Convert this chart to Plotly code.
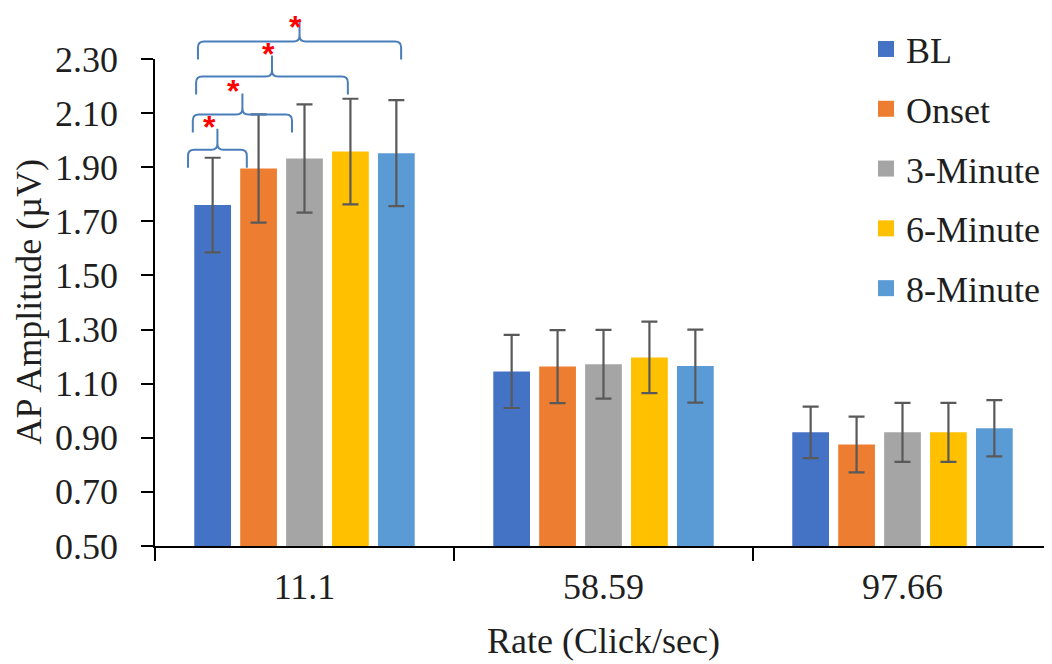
import plotly.graph_objects as go

# ---------------- data ----------------
categories = ["11.1", "58.59", "97.66"]
series_names = ["BL", "Onset", "3-Minute", "6-Minute", "8-Minute"]
bl_vals = [1.76, 1.145, 0.92]
onset_vals = [1.895, 1.163, 0.875]
min3_vals = [1.932, 1.172, 0.92]
min6_vals = [1.958, 1.197, 0.92]
min8_vals = [1.952, 1.165, 0.935]
bl_err = [0.175, 0.135, 0.095]
onset_err = [0.20, 0.135, 0.103]
min3_err = [0.20, 0.127, 0.109]
min6_err = [0.195, 0.132, 0.109]
min8_err = [0.196, 0.135, 0.104]
y_ticks = [0.50, 0.70, 0.90, 1.10, 1.30, 1.50, 1.70, 1.90, 2.10, 2.30]

# significance comparisons in the 11.1 group: (from series, to series)
comparisons = [(0, 1), (0, 2), (0, 3), (0, 4)]
comparison_levels = [1.965, 2.095, 2.235, 2.365]

# ---------------- style ----------------
colors = ["#4472C4", "#ED7D31", "#A5A5A5", "#FFC000", "#5B9BD5"]
values = [bl_vals, onset_vals, min3_vals, min6_vals, min8_vals]
errors = [bl_err, onset_err, min3_err, min6_err, min8_err]
FONT = "Liberation Serif, Times New Roman, serif"
TXT = "#1f1f1f"
OFF = 8  # page body margin
W, H = 1052 - OFF, 664 - OFF
ML, MR, MT, MB = 155 - OFF, 0, 59 - OFF, 118
PW, PH = W - ML - MR, H - MT - MB
Y0, Y1 = 0.5, 2.3
BARGAP, GROUPGAP = 0.232, 0.2
nser = len(series_names)
ncat = len(categories)
slot = (1 - BARGAP) / nser
bw = slot * (1 - GROUPGAP)

fig = go.Figure()
for name, vals, errs, col in zip(series_names, values, errors, colors):
    fig.add_trace(go.Bar(
        name=name, x=categories, y=vals, marker_color=col,
        marker_line_width=0, legendgroup=name, showlegend=False,
        error_y=dict(type="data", array=errs, visible=True,
                     color="#595959", thickness=2.2, width=8),
    ))
# legend entries with larger square swatches
for name, col in zip(series_names, colors):
    fig.add_trace(go.Scatter(
        name=name, x=[None], y=[None], mode="markers",
        marker=dict(symbol="square", size=16, color=col),
        legendgroup=name, showlegend=True, hoverinfo="skip",
    ))

def xp(cat, ser, frac=0.0):
    pos = cat + (ser - (nser - 1) / 2) * slot + frac * bw
    return (pos + 0.5) / ncat

def yp(v):
    return (v - Y0) / (Y1 - Y0)

left_frac = [-0.67, -0.54, -0.45, -0.40]
right_frac = [-0.32, -0.34, -0.07, 0.13]
leg_px, rise_px, rh_px, rv_px = 18, 21, 6, 6
ast_dx = [-8, -9, -3, -4]
ast_lift_px = 5       # glyph centre above brace tip
ast_box_off = 16      # glyph centre below annotation box top
ymax_paper = (MT - 0.2) / PH + 1  # top edge of figure in paper units
shapes, annos = [], []
for k, ((a, b), lvl) in enumerate(zip(comparisons, comparison_levels)):
    xl = xp(0, a, left_frac[k])
    xr = xp(0, b, right_frac[k])
    xm = (xl + xr) / 2
    yh = yp(lvl)
    leg = leg_px / PH
    rise = rise_px / PH
    rh = rh_px / PW
    rv = rv_px / PH
    path = (
        f"M{xl},{yh-leg} L{xl},{yh-rv} Q{xl},{yh} {xl+rh},{yh} "
        f"L{xm-rh},{yh} Q{xm},{yh} {xm},{yh+rv} L{xm},{yh+rise} "
        f"M{xm},{yh+rv} Q{xm},{yh} {xm+rh},{yh} "
        f"L{xr-rh},{yh} Q{xr},{yh} {xr},{yh-rv} L{xr},{yh-leg}"
    )
    shapes.append(dict(type="path", path=path, xref="paper", yref="paper",
                       line=dict(color="#4A7EBB", width=2)))
    ybox = min(yh + rise + (ast_lift_px + ast_box_off) / PH, ymax_paper)
    annos.append(dict(text="<b>*</b>", x=xm + ast_dx[k] / PW, y=ybox,
                      xref="paper", yref="paper", showarrow=False, borderpad=0,
                      xanchor="center", yanchor="top",
                      font=dict(family="Liberation Sans, Arial", size=32, color="#FF0000")))

# y-axis title as a rotated annotation
annos.append(dict(text="AP Amplitude (µV)", textangle=-90, x=(28 - 155) / PW, y=0.5,
                  xref="paper", yref="paper", showarrow=False,
                  xanchor="center", yanchor="middle",
                  font=dict(size=36, family=FONT, color=TXT)))

tickfont = dict(size=36, family=FONT, color=TXT)
fig.update_layout(
    width=W, height=H,
    margin=dict(l=ML, r=MR, t=MT, b=MB, autoexpand=False),
    paper_bgcolor="white", plot_bgcolor="white",
    barmode="group", bargap=BARGAP, bargroupgap=GROUPGAP,
    font=dict(family=FONT, size=36, color=TXT),
    shapes=shapes, annotations=annos,
    showlegend=True,
    legend=dict(x=(866 - 155) / PW, y=1.082, xanchor="left", yanchor="top",
                bgcolor="rgba(0,0,0,0)", font=dict(size=36, family=FONT, color=TXT),
                tracegroupgap=10, itemclick=False, itemdoubleclick=False),
    xaxis=dict(type="category", range=[-0.5, ncat - 0.5], showline=True,
               linecolor="#000000", linewidth=1.5, ticks="outside", ticklen=13,
               tickwidth=1.5, tickcolor="#000000", tickson="boundaries",
               showgrid=False, zeroline=False, ticklabelstandoff=8, tickfont=tickfont,
               title=dict(text="Rate (Click/sec)", standoff=22,
                          font=dict(size=36, family=FONT, color=TXT))),
    yaxis=dict(range=[Y0, Y1], tickvals=y_ticks, tickformat=".2f", showline=True,
               linecolor="#000000", linewidth=1.5, ticks="outside", ticklen=12,
               tickwidth=1.5, tickcolor="#000000", showgrid=False, zeroline=False,
               ticklabelstandoff=16, tickfont=tickfont),
)

fig.write_html("out.html")
